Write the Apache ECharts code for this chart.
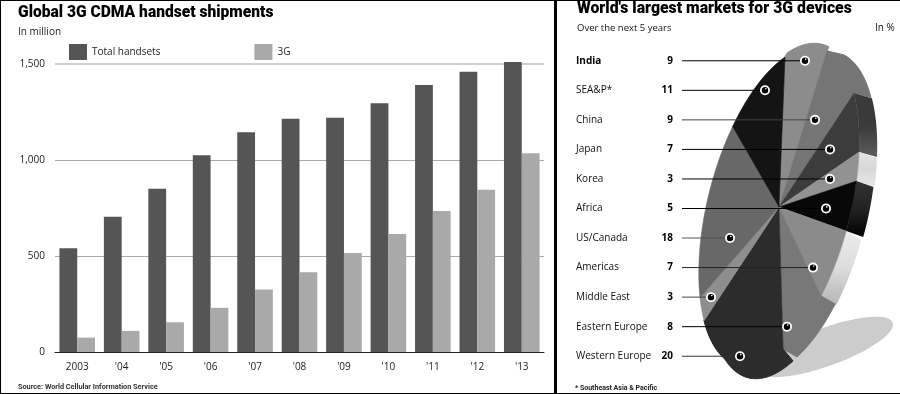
<!DOCTYPE html>
<html><head><meta charset="utf-8">
<style>html,body{margin:0;padding:0;background:#fff}#c{width:900px;height:394px}</style>
<script src="https://cdn.jsdelivr.net/npm/echarts@6/dist/echarts.min.js"></script>
</head><body><div id="c"></div>
<script>
// ---- data ----
const years = ['2003', "'04", "'05", "'06", "'07", "'08", "'09", "'10", "'11", "'12", "'13"];
const totalHandsets = [540, 705, 850, 1025, 1145, 1215, 1220, 1295, 1390, 1460, 1510];
const threeG = [75, 110, 155, 230, 325, 415, 515, 615, 735, 845, 1035];
const marketNames = ['India', 'SEA&P*', 'China', 'Japan', 'Korea', 'Africa', 'US/Canada', 'Americas', 'Middle East', 'Eastern Europe', 'Western Europe'];
const marketShares = [9, 11, 9, 7, 3, 5, 18, 7, 3, 8, 20];
const pieOrder = ['India', 'China', 'Japan', 'Korea', 'Africa', 'Americas', 'Eastern Europe', 'Western Europe', 'Middle East', 'US/Canada', 'SEA&P*'];

// ---- layout & style ----
const FONT = '"Open Sans", sans-serif';
const HEAD = 'Roboto, sans-serif';
const PIVOT = [779, 207], AX_A = [6, -150], AX_B = [80, -55];
const grad = (c0, c1, c2) => new echarts.graphic.LinearGradient(0, 0, 0, 1, [{offset: 0, color: c0}, {offset: .5, color: c1}, {offset: 1, color: c2}]);
const SLICE = {
  'India': {top: '#8c8c8c', wall: '#8c8c8c', v: [2, -4]},
  'China': {top: '#757575', wall: '#757575', v: [17, 4]},
  'Japan': {top: '#3c3c3c', wall: grad('#3a3a3a', '#3a3a3a', '#5c5c5c'), v: [18, 5]},
  'Korea': {top: '#929292', wall: grad('#e2e2e2', '#d8d8d8', '#e8e8e8'), v: [18, 6]},
  'Africa': {top: '#080808', wall: grad('#333333', '#222222', '#000000'), v: [17, 6]},
  'Americas': {top: '#8b8b8b', wall: grad('#ececec', '#dcdcdc', '#b4b4b4'), v: [15, 9]},
  'Eastern Europe': {top: '#787878', wall: '#787878', v: [14, 8]},
  'Western Europe': {top: '#2c2c2c', wall: '#2c2c2c', v: [10, 12]},
  'Middle East': {top: '#8e8e8e'},
  'US/Canada': {top: '#686868'},
  'SEA&P*': {top: '#141414'}
};
const DOT_X = {'India': 805, 'SEA&P*': 765, 'China': 815, 'Japan': 830, 'Korea': 830, 'Africa': 826, 'US/Canada': 730, 'Americas': 813, 'Middle East': 711, 'Eastern Europe': 787, 'Western Europe': 740};
const LEADER_COLOR = {'China': '#444', 'US/Canada': '#555', 'Middle East': '#444', 'Western Europe': '#333', 'Americas': '#222'};

const sharesInOrder = pieOrder.map(n => marketShares[marketNames.indexOf(n)]);
const totalShare = sharesInOrder.reduce((a, b) => a + b, 0);
let running = 0;
const pieData = pieOrder.map((n, i) => { const d = {name: n, value: [running, sharesInOrder[i]]}; running += sharesInOrder[i]; return d; });

function arc(t0, t1, off) {
  const pts = [], n = Math.max(4, Math.ceil((t1 - t0) * 120));
  for (let i = 0; i <= n; i++) {
    const a = 2 * Math.PI * (t0 + (t1 - t0) * i / n);
    pts.push([PIVOT[0] + AX_A[0] * Math.cos(a) + AX_B[0] * Math.sin(a) + off[0],
              PIVOT[1] + AX_A[1] * Math.cos(a) + AX_B[1] * Math.sin(a) + off[1]]);
  }
  return pts;
}
function range(api) { const s = api.value(0) / totalShare; return [s, s + api.value(1) / totalShare]; }
function renderWall(p, api) {
  const st = SLICE[pieOrder[p.dataIndex]];
  if (!st.wall) return {type: 'group', children: []};
  const [t0, t1] = range(api);
  const solid = typeof st.wall === 'string';
  return {type: 'polygon', shape: {points: arc(t0, t1, [0, 0]).concat(arc(t0, t1, st.v).reverse())},
          style: {fill: st.wall, stroke: solid ? st.wall : null, lineWidth: solid ? 1 : 0}};
}
function renderTop(p, api) {
  const st = SLICE[pieOrder[p.dataIndex]];
  const [t0, t1] = range(api);
  return {type: 'polygon', shape: {points: [PIVOT].concat(arc(t0, t1, [0, 0]))}, style: {fill: st.top, stroke: st.top, lineWidth: .6}};
}
function renderLeader(p, api) {
  const name = marketNames[p.dataIndex];
  const a = api.coord([682, p.dataIndex]), b = api.coord([DOT_X[name], p.dataIndex]);
  return {type: 'group', children: [
    {type: 'line', shape: {x1: a[0], y1: a[1], x2: b[0], y2: b[1]}, style: {stroke: LEADER_COLOR[name] || '#000', lineWidth: 1}},
    {type: 'circle', shape: {cx: b[0], cy: b[1], r: 5}, style: {fill: '#fff'}},
    {type: 'circle', shape: {cx: b[0], cy: b[1], r: 3.2}, style: {fill: '#000'}},
    {type: 'circle', shape: {cx: b[0] + .8, cy: b[1] - 1.6, r: .8}, style: {fill: '#fff'}}
  ]};
}
const txt = (text, left, top, size, weight, color, family) => ({
  text, left, top, padding: 0,
  textStyle: {fontFamily: family || FONT, fontSize: size, fontWeight: weight, color: color}
});

const chart = echarts.init(document.getElementById('c'), null, {renderer: 'canvas'});
chart.setOption({
  animation: false,
  backgroundColor: '#fff',
  title: [
    txt('Global 3G CDMA handset shipments', 18, 5, 15.6, 900, '#000', HEAD),
    txt('In million', 18, 27, 10, 400, '#222'),
    txt('Source: World Cellular Information Service', 18, 384, 7.3, 700, '#333', HEAD),
    txt("World's largest markets for 3G devices", 577, 1, 15.8, 900, '#000', HEAD),
    txt('Over the next 5 years', 577, 23, 9.5, 400, '#111'),
    txt('In %', 875, 23, 10, 400, '#111'),
    txt('* Southeast Asia & Pacific', 575, 385, 7, 700, '#222', HEAD)
  ],
  legend: {
    left: 69, top: 44, itemWidth: 18, itemHeight: 16, itemGap: 94, padding: 0, icon: 'rect',
    itemStyle: {borderWidth: 0},
    textStyle: {fontFamily: FONT, fontSize: 10, color: '#222'},
    data: ['Total handsets', '3G']
  },
  grid: [
    {left: 55, top: 64, width: 489, height: 288, containLabel: false},
    {left: 682, top: 46, width: 218, height: 325, containLabel: false}
  ],
  xAxis: [
    {type: 'category', gridIndex: 0, data: years, axisTick: {show: false},
     axisLine: {lineStyle: {color: '#222', width: 1}},
     axisLabel: {fontFamily: FONT, fontSize: 10, color: '#222', margin: 10}},
    {type: 'value', gridIndex: 1, min: 682, max: 900, show: false}
  ],
  yAxis: [
    {type: 'value', gridIndex: 0, min: 0, max: 1500, interval: 500,
     axisLine: {show: false}, axisTick: {show: false},
     axisLabel: {fontFamily: FONT, fontSize: 10, color: '#222', margin: 10,
       formatter: v => v === 0 ? '0' : v.toLocaleString('en-US')},
     splitLine: {lineStyle: {color: '#a8a8a8', width: 1}}},
    {type: 'category', gridIndex: 1, inverse: true, data: marketNames, position: 'left',
     axisLine: {show: false}, axisTick: {show: false}, splitLine: {show: false},
     axisLabel: {fontFamily: FONT, fontSize: 10, color: '#111', align: 'left', margin: 106,
       formatter: v => v === 'India' ? '{b|' + v + '}' : v,
       rich: {b: {fontFamily: FONT, fontSize: 10, fontWeight: 700, color: '#000'}}}},
    {type: 'category', gridIndex: 1, inverse: true, data: marketShares.map(String), position: 'left',
     axisLine: {show: false}, axisTick: {show: false}, splitLine: {show: false},
     axisLabel: {fontFamily: FONT, fontSize: 10, fontWeight: 700, color: '#000', align: 'right', margin: 9}}
  ],
  series: [
    {type: 'bar', name: 'Total handsets', xAxisIndex: 0, yAxisIndex: 0, data: totalHandsets, barWidth: 17.8, barGap: 0, clip: false, itemStyle: {color: '#555555'}, z: 3},
    {type: 'bar', name: '3G', xAxisIndex: 0, yAxisIndex: 0, data: threeG, barWidth: 17.8, barGap: 0, clip: false, itemStyle: {color: '#a9a9a9'}, z: 3},
    {type: 'custom', coordinateSystem: 'none', name: 'walls', renderItem: renderWall, data: pieData, z: 4, silent: true},
    {type: 'custom', coordinateSystem: 'none', name: 'slices', renderItem: renderTop, data: pieData, z: 5, silent: true},
    {type: 'custom', coordinateSystem: 'cartesian2d', name: 'leaders', xAxisIndex: 1, yAxisIndex: 1,
     renderItem: renderLeader, data: marketShares.map((v, i) => [682, i, v]), encode: {x: 0, y: 1}, clip: false, z: 6, silent: true}
  ],
  graphic: [
    {type: 'ellipse', shape: {cx: 0, cy: 0, rx: 71, ry: 19}, x: 826, y: 347, rotation: 20 * Math.PI / 180, style: {fill: '#cccccc'}, z: 1},
    {type: 'rect', shape: {x: 554, y: 0, width: 3, height: 394}, style: {fill: '#000'}, z: 10},
    {type: 'rect', shape: {x: 0, y: 0, width: 900, height: 1}, style: {fill: '#000'}, z: 10},
    {type: 'rect', shape: {x: 0, y: 393, width: 900, height: 1}, style: {fill: '#000'}, z: 10},
    {type: 'rect', shape: {x: 0, y: 0, width: 1, height: 394}, style: {fill: '#000'}, z: 10},
    {type: 'rect', shape: {x: 55, y: 63, width: 489, height: 2}, style: {fill: '#cfcfcf'}, z: 1}
  ]
});
</script></body></html>
